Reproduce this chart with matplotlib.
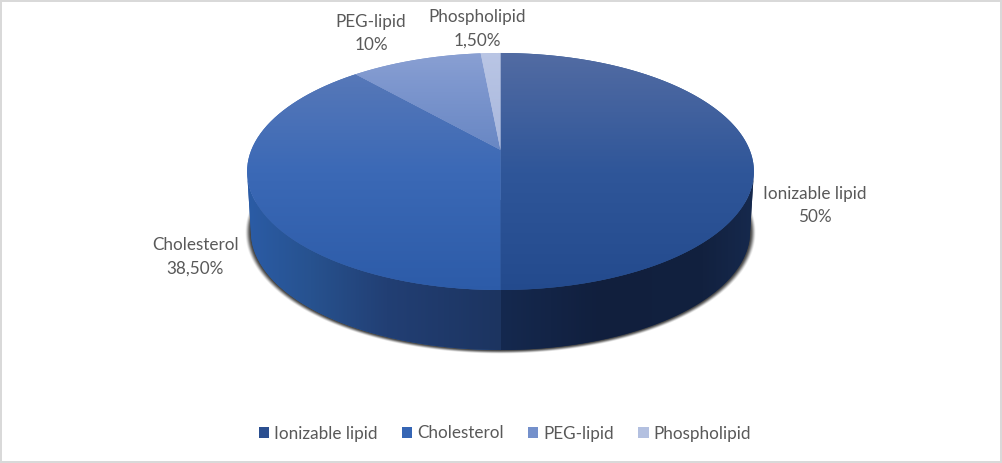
import numpy as np
import matplotlib
matplotlib.use("Agg")
import matplotlib.pyplot as plt
from matplotlib.path import Path
from matplotlib.patches import PathPatch, Rectangle
from matplotlib.transforms import Transform
from matplotlib.colors import to_rgb

categories = ["Ionizable lipid", "Cholesterol", "PEG-lipid", "Phospholipid"]
values = [50, 38.5, 10, 1.5]
value_labels = ["50%", "38,50%", "10%", "1,50%"]

plt.rcParams['font.family'] = ['Lato', 'DejaVu Sans']
TXT = "#595959"
W, H = 1002, 463

# perspective of the unit disc into pixel space
CX, Y0, E, K, G = 500.5, 150.0, -87.4, 0.1814, 249.2
DEPTH = 60.0
SX = 0.985


def project(u, v, dy=0.0, sx=1.0):
    d = 1 + K * v
    return CX + sx * G * u / d, (Y0 + E * v) / d + dy


class Persp(Transform):
    input_dims = output_dims = 2
    is_affine = False
    has_inverse = False

    def transform_non_affine(self, xy):
        xy = np.asarray(xy, float)
        x, y = project(xy[:, 0], xy[:, 1])
        return np.column_stack([x, y])

    def transform_path_non_affine(self, path):
        big = Path(path.vertices * 800.0, path.codes)
        polys = big.to_polygons(closed_only=False)
        verts = np.vstack(polys) / 800.0
        return Path(self.transform_non_affine(verts))


fig = plt.figure(figsize=(W / 100, H / 100), dpi=100, facecolor="white")
ax = fig.add_axes([0, 0, 1, 1])

base = ["#2c5494", "#3c69b5", "#7590cb", "#b3c0e2"]
wedges, _ = ax.pie(values, colors=base, startangle=90, counterclock=False,
                   radius=1.0, wedgeprops=dict(linewidth=0, zorder=5))
persp = Persp()
for w in wedges:
    w.set_transform(persp + ax.transData)

ax.set_aspect("auto")
ax.set_xlim(0, W)
ax.set_ylim(H, 0)
ax.axis("off")


def grad_image(stops, horizontal, extent, zorder, clip):
    n = 256
    t = np.linspace(0, 1, n)
    ps = [s[0] for s in stops]
    cols = np.array([to_rgb(s[1]) for s in stops])
    arr = np.stack([np.interp(t, ps, cols[:, i]) for i in range(3)], axis=-1)
    arr = arr[None, :, :] if horizontal else arr[:, None, :]
    im = ax.imshow(arr, extent=extent, aspect="auto", origin="upper",
                   zorder=zorder, interpolation="bilinear")
    im.set_clip_path(clip)
    return im


# top-face gradients (top -> bottom)
face_stops = [
    [(0, "#536ca3"), (0.5, "#2f5699"), (1, "#234a8d")],
    [(0, "#5f7db9"), (0.15, "#5376b8"), (0.5, "#3b69b6"), (1, "#2c5ba8")],
    [(0, "#8ba1d3"), (0.12, "#7f98cf"), (0.42, "#6786c3"), (1, "#6080c0")],
    [(0, "#bac6e5"), (0.4, "#a9b8dd"), (1, "#a0b0d8")],
]
for w, st in zip(wedges, face_stops):
    grad_image(st, False, (240, 760, 295, 50), 6, w)

# side wall, taken from the wedge angles
wall_stops = [
    [(0, "#15294f"), (0.4, "#111f3d"), (0.8, "#12213f"), (1, "#16294d")],
    [(0, "#2b5ca6"), (0.25, "#27528f"), (0.55, "#223f74"), (1, "#1c3460")],
]
for w, st in zip(wedges[:2], wall_stops):
    angs = np.linspace(w.theta1, w.theta2, 300)
    r = np.radians(angs)
    u, v = np.cos(r), np.sin(r)
    keep = v <= -K
    u, v = u[keep], v[keep]
    order = np.argsort(np.arctan2(v, u))
    u, v = u[order], v[order]
    xt, yt = project(u, v)
    xb, yb = project(u, v, DEPTH, SX)
    verts = np.vstack([np.column_stack([xt, yt]),
                       np.column_stack([xb, yb])[::-1], [xt[0], yt[0]]])
    patch = PathPatch(Path(verts), fc=st[0][1], lw=0, zorder=3)
    ax.add_patch(patch)
    x0, x1 = verts[:, 0].min(), verts[:, 0].max()
    grad_image(st, True, (x0, x1, 360, 160), 4, patch)

# soft shadow under the wall: inverse of the perspective on a pixel grid
px, py = np.meshgrid(np.arange(W) + 0.5, np.arange(H) + 0.5)
yy = py - DEPTH
vv = (Y0 - yy) / (K * yy - E)
uu = (px - CX) / (SX * G) * (1 + K * vv)
rr = np.sqrt(uu ** 2 + vv ** 2)
soft = np.clip((1.024 - rr) / 0.024, 0, 1)
soft = soft * soft * (3 - 2 * soft)
soft[py < 200] = 0
shadow = np.zeros((H, W, 4))
shadow[..., :3] = to_rgb("#3a3a3a")
shadow[..., 3] = 0.95 * soft
ax.imshow(shadow, extent=(0, W, H, 0), aspect="auto", origin="upper",
          zorder=2, interpolation="bilinear")
ax.set_xlim(0, W)
ax.set_ylim(H, 0)

# data labels
label_pos = [(815, 193.5, 217.5), (195.5, 244.5, 268.5), (371, 22.5, 45.5), (477, 17, 40.5)]
for cat, lab, (x, y1, y2) in zip(categories, value_labels, label_pos):
    ax.text(x, y1, cat, ha="center", va="center", fontsize=12.3, color=TXT, zorder=8)
    ax.text(x, y2, lab, ha="center", va="center", fontsize=12.3, color=TXT, zorder=8)

# legend
leg_colors = ["#2b4f90", "#3565b4", "#7490cb", "#b3c0e0"]
handles = [Rectangle((0, 0), 1, 1, fc=c, lw=0) for c in leg_colors]
ax.legend(handles, categories, loc="center", bbox_to_anchor=(505 / W, 1 - 433.5 / H),
          ncol=4, frameon=False, fontsize=12.3, labelcolor=TXT,
          handlelength=0.6, handleheight=0.6, handletextpad=0.3,
          columnspacing=1.42, borderpad=0, borderaxespad=0)

# picture frame
for box in [(0, 0, W, 2), (0, H - 2, W, 2), (0, 0, 2, H), (W - 2, 0, 2, H)]:
    ax.add_patch(Rectangle(box[:2], box[2], box[3], fc="#d9d9d9", lw=0, zorder=9))

fig.savefig("out.png", dpi=100, facecolor="white")
